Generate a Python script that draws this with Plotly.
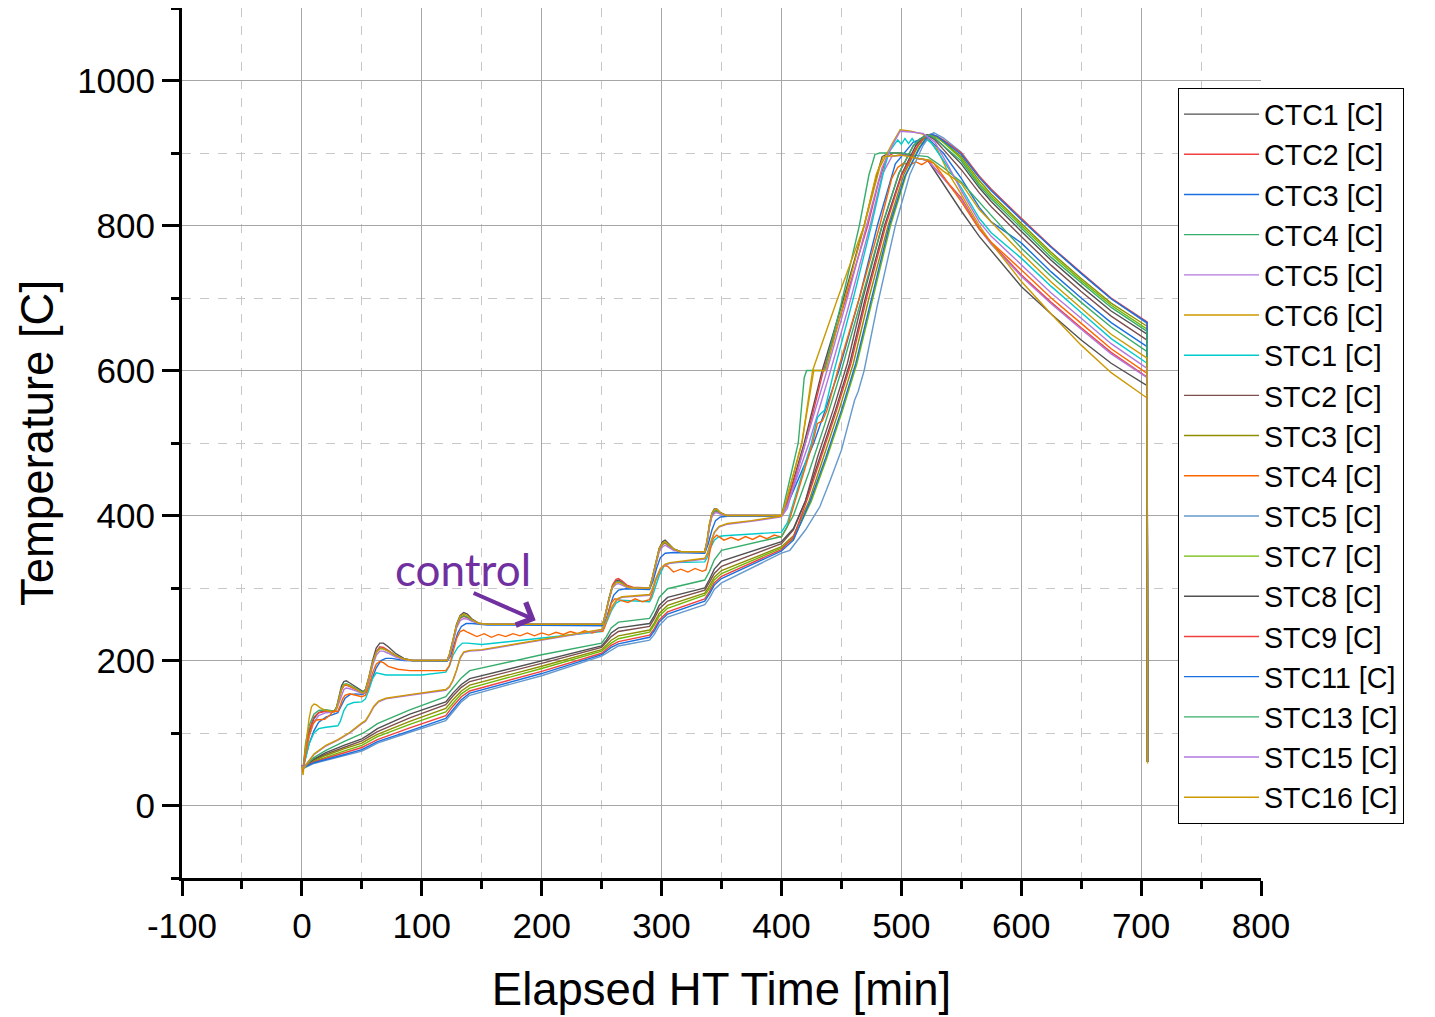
import plotly.graph_objects as go

# ---------------- data ----------------
series_names = ["CTC1 [C]", "CTC2 [C]", "CTC3 [C]", "CTC4 [C]", "CTC5 [C]", "CTC6 [C]",
                "STC1 [C]", "STC2 [C]", "STC3 [C]", "STC4 [C]", "STC5 [C]", "STC7 [C]",
                "STC8 [C]", "STC9 [C]", "STC11 [C]", "STC13 [C]", "STC15 [C]", "STC16 [C]"]

series_colors = ["#515151", "#F14040", "#1A6FDF", "#37AD6B", "#B177DE", "#CC9900",
                 "#00CBCC", "#7D4E4E", "#8E8E00", "#FB6501", "#6699CC", "#6FB802",
                 "#515151", "#F14040", "#1A6FDF", "#37AD6B", "#B177DE", "#CC9900"]

# (elapsed time [min], temperature [C]) pairs
pts_CTC1 = [(0,55),(1,50),(3,75),(6,100),(10,120),(14,128),(20,131),(27,130),(29,136),(31,150),(33,165),(35,171),(37,172),(40,169),(45,163),(51,157),(53,160),(56,178),(59,200),(62,217),(65,224),(68,224),(72,219),(78,210),(85,203),(92,200),(121,200),(123,208),(126,228),(129,250),(132,262),(135,266),(138,264),(142,257),(148,251),(155,250),(251,250),(253,262),(256,284),(259,302),(262,310),(264,311),(267,308),(271,302),(276,300),(290,300),(292,312),(295,335),(298,355),(301,364),(303,366),(306,361),(310,354),(316,350),(336,350),(338,365),(340,388),(342,403),(344,409),(346,409),(349,404),(354,400),(400,400),
            (405,420),(419,500),(434,600),(452,700),(469,800),(478,860),(484,895),(490,900),(500,900),(512,893),(522,890),(535,858),(550,820),(565,785),(575,765),(600,716),(625,678),(650,642),(675,610),(705,579),(705.4,62)]
pts_CTC2 = [(0,55),(1,52),(3,78),(6,104),(10,122),(14,128),(20,130),(27,130),(29,135),(31,146),(33,159),(35,165),(37,166),(40,164),(45,160),(51,155),(53,158),(56,175),(59,196),(62,212),(65,219),(68,218),(72,214),(78,207),(85,202),(92,200),(121,200),(123,207),(126,226),(129,247),(132,258),(135,261),(138,259),(142,255),(148,251),(155,250),(251,250),(253,263),(256,286),(259,304),(262,312),(264,313),(267,310),(271,304),(276,301),(290,300),(292,311),(295,333),(298,352),(301,360),(303,362),(306,358),(310,353),(316,350),(336,350),(338,364),(340,386),(342,400),(344,405),(346,406),(349,403),(354,400),(400,400),
            (405,418),(420,500),(435,600),(452,690),(472,800),(481,860),(488,895),(494,900),(502,898),(512,893),(522,890),(535,866),(550,838),(565,796),(575,776),(600,732),(625,694),(650,659),(675,625),(705,591),(705.4,60)]
pts_CTC3 = [(0,55),(1,53),(3,65),(6,85),(10,103),(14,115),(20,122),(27,126),(30,128),(33,138),(36,148),(40,153),(45,154),(51,153),(54,157),(58,172),(62,190),(66,200),(70,203),(75,203),(85,200),(121,199),(124,206),(127,222),(130,238),(133,247),(137,251),(142,251),(155,249),(251,248),(254,258),(257,275),(260,290),(264,297),(270,299),(290,298),(293,310),(296,328),(299,342),(303,348),(310,349),(336,348),(339,361),(342,380),(345,393),(349,398),(355,399),(400,399),
            (405,415),(427,500),(448,600),(465,700),(480,800),(495,885),(510,915),(521,922),(535,900),(550,865),(565,825),(575,805),(600,776),(625,736),(650,700),(675,666),(705,633),(705.4,60)]
pts_CTC4 = [(0,55),(1,51),(3,85),(6,110),(10,126),(14,131),(20,132),(27,130),(29,136),(31,148),(33,161),(35,167),(37,168),(40,166),(45,161),(51,156),(53,159),(56,176),(59,197),(62,211),(65,217),(68,216),(72,213),(78,207),(85,202),(92,200),(121,200),(123,207),(126,227),(129,248),(132,259),(135,262),(138,260),(142,255),(148,251),(155,250),(251,250),(253,262),(256,285),(259,302),(262,308),(264,309),(267,307),(271,302),(276,300),(290,300),(292,311),(295,334),(298,353),(301,361),(303,363),(306,359),(310,354),(316,350),(336,350),(338,364),(340,387),(342,401),(344,406),(346,407),(349,403),(354,400),(400,400),
            (407,450),(414,500),(419,590),(421,600),(436,600),(451,700),(465,800),(473,870),(478,898),(482,900),(500,900),(510,897),(522,895),(535,880),(550,860),(565,832),(575,814),(600,769),(625,730),(650,694),(675,660),(705,626),(705.4,60)]
pts_CTC5 = [(0,55),(1,50),(3,70),(6,95),(10,115),(14,124),(20,128),(27,129),(29,133),(31,142),(33,153),(35,160),(37,162),(40,161),(45,158),(51,154),(53,156),(56,172),(59,193),(62,207),(65,213),(68,213),(72,210),(78,205),(85,201),(92,200),(121,200),(123,205),(126,224),(129,245),(132,255),(135,258),(138,257),(142,254),(148,251),(155,250),(251,250),(253,261),(256,283),(259,300),(262,305),(264,306),(267,304),(271,301),(276,300),(290,300),(292,310),(295,331),(298,350),(301,357),(303,359),(306,356),(310,352),(316,350),(336,350),(338,362),(340,384),(342,398),(344,403),(346,404),(349,402),(354,400),(400,400),
            (405,415),(423,500),(441,600),(458,700),(474,800),(484,870),(492,895),(502,897),(512,893),(522,890),(535,865),(550,836),(565,795),(575,774),(600,730),(625,692),(650,657),(675,623),(705,590),(705.4,60)]
pts_CTC6 = [(0,55),(1,42),(3,80),(6,120),(8,136),(10,140),(12,139),(15,135),(20,131),(27,129),(29,135),(31,147),(33,160),(35,166),(37,167),(40,165),(45,160),(51,155),(53,158),(56,176),(59,197),(62,211),(65,216),(68,216),(72,213),(78,207),(85,202),(92,200),(121,200),(123,208),(126,228),(129,249),(132,261),(135,264),(138,262),(142,256),(148,251),(155,250),(251,250),(253,263),(256,285),(259,302),(262,307),(264,308),(267,306),(271,302),(276,300),(290,300),(292,312),(295,335),(298,354),(301,362),(303,364),(306,360),(310,354),(316,350),(336,350),(338,366),(340,389),(342,403),(344,408),(346,409),(349,404),(354,400),(400,400),
            (404,420),(417,500),(427,600),(437,600),(453,700),(469,800),(482,880),(492,912),(499,932),(508,930),(518,926),(530,905),(540,870),(550,843),(565,800),(575,776),(600,723),(625,678),(650,635),(675,597),(705,562),(705.4,58)]
pts_STC1 = [(0,55),(1,50),(3,65),(6,85),(10,100),(14,106),(20,108),(30,110),(32,116),(35,131),(38,139),(43,142),(50,143),(53,147),(56,160),(59,175),(62,183),(66,182),(70,180),(100,180),(120,184),(123,192),(126,207),(130,218),(134,224),(138,224),(150,222),(250,240),(252,245),(255,256),(258,268),(262,279),(266,283),(290,281),(292,287),(295,302),(298,317),(302,330),(306,334),(310,335),(336,336),(338,342),(341,356),(344,366),(348,371),(352,372),(375,374),(400,377),
            (405,390),(425,500),(430,535),(433,541),(436,545),(444,600),(460,700),(475,800),(486,880),(490,902),(497,918),(500,912),(503,920),(506,913),(509,920),(512,913),(515,919),(518,912),(521,919),(525,914),(535,890),(550,852),(565,810),(575,790),(600,755),(625,716),(650,680),(675,644),(705,610),(705.4,60)]
pts_STC2 = [(0,55),(1,53),(10,63),(20,71),(35,80),(50,89),(56,95),(63,102),(90,121),(120,139),(126,151),(133,163),(140,171),(200,196),(250,218),(254,225),(258,233),(264,240),(290,247),(294,258),(298,271),(305,282),(336,297),(340,308),(344,320),(350,330),(400,361),
            (410,380),(420,420),(430,480),(443,545),(455,610),(468,700),(484,800),(498,872),(510,910),(516,920),(521,925),(528,918),(535,905),(550,877),(565,845),(575,826),(600,785),(625,745),(650,709),(675,675),(705,642),(705.4,60)]
pts_STC3 = [(0,55),(1,51),(10,62),(20,69),(35,78),(50,86),(56,92),(63,98),(90,116),(120,134),(126,146),(133,158),(140,166),(200,192),(250,215),(254,221),(258,228),(264,234),(290,242),(294,252),(298,265),(305,276),(336,293),(340,303),(344,315),(350,324),(400,357),
            (410,372),(423,420),(435,480),(448,545),(460,610),(473,700),(489,800),(502,870),(514,910),(519,920),(524,925),(530,921),(535,915),(550,895),(565,862),(575,843),(600,803),(625,763),(650,727),(675,693),(705,661),(705.4,60)]
pts_STC4 = [(0,55),(1,48),(3,70),(6,95),(9,112),(12,118),(19,119),(23,124),(26,130),(30,130),(32,138),(34,147),(36,152),(40,154),(45,152),(50,150),(53,152),(56,165),(59,183),(62,195),(65,199),(68,197),(72,192),(80,188),(90,186),(100,186),(120,186),(123,193),(126,212),(129,230),(132,240),(135,242),(138,239),(142,236),(146,233),(152,237),(158,232),(164,236),(170,233),(176,237),(182,234),(188,238),(194,234),(200,238),(206,235),(212,239),(218,236),(224,240),(230,237),(236,241),(242,238),(248,241),(251,240),(253,248),(255,262),(258,279),(261,285),(264,284),(266,283),(272,280),(278,285),(284,281),(290,284),(292,292),(295,310),(299,325),(302,331),(305,330),(310,322),(316,326),(322,322),(328,327),(334,323),(337,325),(339,338),(341,356),(343,368),(346,373),(349,370),(352,366),(358,370),(364,366),(370,371),(376,367),(382,372),(388,368),(394,373),(400,370),
            (405,385),(426,500),(430,527),(434,530),(438,545),(447,600),(465,700),(482,800),(492,865),(497,880),(502,886),(507,883),(512,888),(517,884),(522,889),(527,886),(535,868),(550,833),(565,795),(575,777),(600,739),(625,700),(650,665),(675,630),(705,596),(705.4,60)]
pts_STC5 = [(0,55),(1,51),(10,58),(20,62),(35,68),(50,75),(56,80),(63,86),(90,101),(120,117),(126,129),(133,143),(140,152),(200,179),(250,206),(254,210),(258,215),(264,220),(290,228),(294,236),(298,248),(305,260),(336,277),(340,286),(344,298),(350,307),(400,348),
            (407,352),(420,380),(432,412),(441,450),(450,490),(461,559),(464,571),(469,600),(480,690),(495,800),(507,870),(518,910),(523,922),(527,928),(535,921),(550,901),(565,868),(575,850),(600,810),(625,770),(650,734),(675,699),(705,665),(705.4,60)]
pts_STC7 = [(0,55),(1,52),(10,61),(20,67),(35,75),(50,83),(56,89),(63,95),(90,112),(120,129),(126,141),(133,154),(140,162),(200,189),(250,213),(254,218),(258,224),(264,230),(290,239),(294,249),(298,261),(305,272),(336,290),(340,299),(344,311),(350,320),(400,355),
            (410,368),(425,420),(438,480),(451,545),(463,610),(476,700),(491,800),(504,870),(515,908),(520,919),(525,924),(530,921),(535,915),(550,892),(565,858),(575,840),(600,800),(625,760),(650,724),(675,690),(705,657),(705.4,60)]
pts_STC8 = [(0,55),(1,52),(10,64),(20,73),(35,83),(50,92),(56,98),(63,106),(90,126),(120,143),(126,155),(133,167),(140,175),(200,199),(250,220),(254,228),(258,238),(264,245),(290,251),(294,262),(298,276),(305,287),(336,300),(340,312),(344,326),(350,337),(400,364),
            (410,382),(420,420),(432,480),(445,545),(457,610),(470,700),(486,800),(500,870),(512,910),(517,920),(522,925),(528,920),(535,910),(550,885),(565,852),(575,833),(600,792),(625,752),(650,716),(675,682),(705,650),(705.4,60)]
pts_STC9 = [(0,55),(1,53),(10,60),(20,65),(35,72),(50,80),(56,85),(63,91),(90,107),(120,124),(126,137),(133,150),(140,158),(200,185),(250,210),(254,215),(258,221),(264,226),(290,235),(294,244),(298,256),(305,267),(336,285),(340,295),(344,307),(350,316),(400,353),
            (410,370),(421,420),(433,480),(446,545),(458,610),(471,700),(487,800),(500,868),(512,906),(518,920),(524,926),(530,923),(535,918),(550,900),(565,868),(575,850),(600,810),(625,771),(650,735),(675,700),(705,667),(705.4,60)]
pts_STC11 = [(0,55),(1,52),(10,59),(20,63),(35,70),(50,77),(56,82),(63,88),(90,103),(120,120),(126,132),(133,146),(140,155),(200,182),(250,208),(254,213),(258,218),(264,223),(290,232),(294,241),(298,253),(305,264),(336,282),(340,292),(344,304),(350,313),(400,351),
            (410,366),(424,420),(437,480),(450,545),(462,610),(475,700),(490,800),(503,868),(515,906),(520,919),(525,926),(530,923),(535,917),(550,898),(565,866),(575,848),(600,808),(625,770),(650,734),(675,699),(705,666),(705.4,60)]
pts_STC13 = [(0,55),(1,52),(10,66),(20,76),(35,88),(50,99),(56,105),(63,113),(90,132),(120,150),(126,162),(133,176),(140,186),(200,208),(250,224),(254,233),(258,245),(264,253),(290,258),(294,270),(298,287),(305,299),(336,311),(340,323),(344,339),(350,352),(400,371),
            (410,400),(423,460),(436,525),(450,600),(467,700),(484,800),(498,872),(510,910),(517,921),(523,925),(529,919),(535,910),(550,889),(565,855),(575,837),(600,796),(625,756),(650,721),(675,687),(705,654),(705.4,60)]
pts_STC15 = [(0,55),(1,52),(10,70),(20,82),(30,90),(40,100),(50,113),(53,116),(56,124),(60,136),(64,143),(70,147),(90,152),(120,159),(123,163),(126,172),(129,186),(132,203),(135,211),(140,213),(150,214),(200,228),(250,242),(252,247),(255,259),(259,274),(263,284),(267,287),(290,290),(292,296),(295,311),(299,326),(303,332),(307,334),(336,340),(338,346),(341,362),(344,376),(348,384),(355,388),(375,392),(400,398),
             (405,410),(420,500),(438,600),(455,700),(471,800),(484,880),(493,912),(499,930),(508,929),(518,927),(528,915),(540,880),(550,848),(565,805),(575,785),(600,746),(625,707),(650,672),(675,637),(705,603),(705.4,60)]
pts_STC16 = [(0,54),(1,50),(10,71),(20,83),(30,91),(40,101),(50,114),(53,117),(56,125),(60,137),(64,144),(70,148),(90,153),(120,160),(123,164),(126,173),(129,187),(132,204),(135,212),(140,214),(150,215),(200,229),(250,243),(252,248),(255,260),(259,275),(263,285),(267,288),(290,291),(292,297),(295,312),(299,327),(303,333),(307,335),(336,341),(338,347),(341,363),(344,377),(348,385),(355,389),(375,393),(400,399),
             (404,420),(417,500),(426,600),(447,700),(469,800),(479,870),(485,895),(500,897),(512,893),(524,890),(535,875),(550,858),(565,822),(575,805),(600,762),(625,722),(650,686),(675,650),(705,617),(705.4,60)]

series_points = [pts_CTC1, pts_CTC2, pts_CTC3, pts_CTC4, pts_CTC5, pts_CTC6,
                 pts_STC1, pts_STC2, pts_STC3, pts_STC4, pts_STC5, pts_STC7,
                 pts_STC8, pts_STC9, pts_STC11, pts_STC13, pts_STC15, pts_STC16]

x_tick_vals = [-100, 0, 100, 200, 300, 400, 500, 600, 700, 800]
x_tick_text = ["-100", "0", "100", "200", "300", "400", "500", "600", "700", "800"]
y_tick_vals = [0, 200, 400, 600, 800, 1000]
y_tick_text = ["0", "200", "400", "600", "800", "1000"]

# ---------------- figure ----------------
fig = go.Figure()
for name, color, pts in zip(series_names, series_colors, series_points):
    fig.add_trace(go.Scatter(
        x=[p[0] for p in pts], y=[p[1] for p in pts],
        mode="lines", name=name,
        line=dict(color=color, width=1.4),
    ))

FONT = "Liberation Sans, Arial, sans-serif"

fig.update_layout(
    width=1435, height=1017,
    margin=dict(l=174, r=182, t=0, b=147),
    paper_bgcolor="white", plot_bgcolor="white",
    font=dict(family=FONT, color="black"),
    showlegend=True,
    legend=dict(x=0.9231, y=0.908, xanchor="left", yanchor="top",
                bgcolor="white", bordercolor="black", borderwidth=1,
                font=dict(family=FONT, size=28.6, color="black"),
                itemwidth=75, tracegroupgap=0),
)

fig.update_xaxes(
    range=[-100, 800], tickvals=x_tick_vals, ticktext=x_tick_text,
    ticks="outside", ticklen=15, tickwidth=2.5, tickcolor="black",
    showline=True, linecolor="black", linewidth=3,
    showgrid=True, gridcolor="#a6a6a6", gridwidth=1, zeroline=False,
    tickfont=dict(family=FONT, size=35, color="black"),
    title=dict(text="Elapsed HT Time [min]", font=dict(family=FONT, size=45.5, color="black"), standoff=30),
    minor=dict(tick0=-50, dtick=100, ticks="outside", ticklen=8, tickwidth=2.5, tickcolor="black",
               showgrid=True, gridcolor="#c8c8c8", griddash="dash", gridwidth=1),
)
fig.update_yaxes(
    range=[-100, 1100], tickvals=y_tick_vals, ticktext=y_tick_text,
    ticks="outside", ticklen=17, tickwidth=2.5, tickcolor="black",
    showline=True, linecolor="black", linewidth=3,
    showgrid=True, gridcolor="#a6a6a6", gridwidth=1, zeroline=False,
    tickfont=dict(family=FONT, size=35, color="black"),
    title=dict(text="Temperature [C]", font=dict(family=FONT, size=45.5, color="black"), standoff=10),
    minor=dict(tick0=-100, dtick=200, ticks="outside", ticklen=8, tickwidth=2.5, tickcolor="black",
               showgrid=True, gridcolor="#c8c8c8", griddash="dash", gridwidth=1),
)

# "control" label with arrow
fig.add_annotation(x=134, y=326, xref="x", yref="y", text="control", showarrow=False,
                   font=dict(family="Lato, Open Sans, sans-serif", size=44, color="#7030A0"))
fig.add_annotation(x=195, y=255.5, ax=142, ay=294, xref="x", yref="y", axref="x", ayref="y",
                   text="", showarrow=True, arrowhead=4, arrowsize=1.2, arrowwidth=4,
                   arrowcolor="#7030A0")

fig.write_html("out.html")
